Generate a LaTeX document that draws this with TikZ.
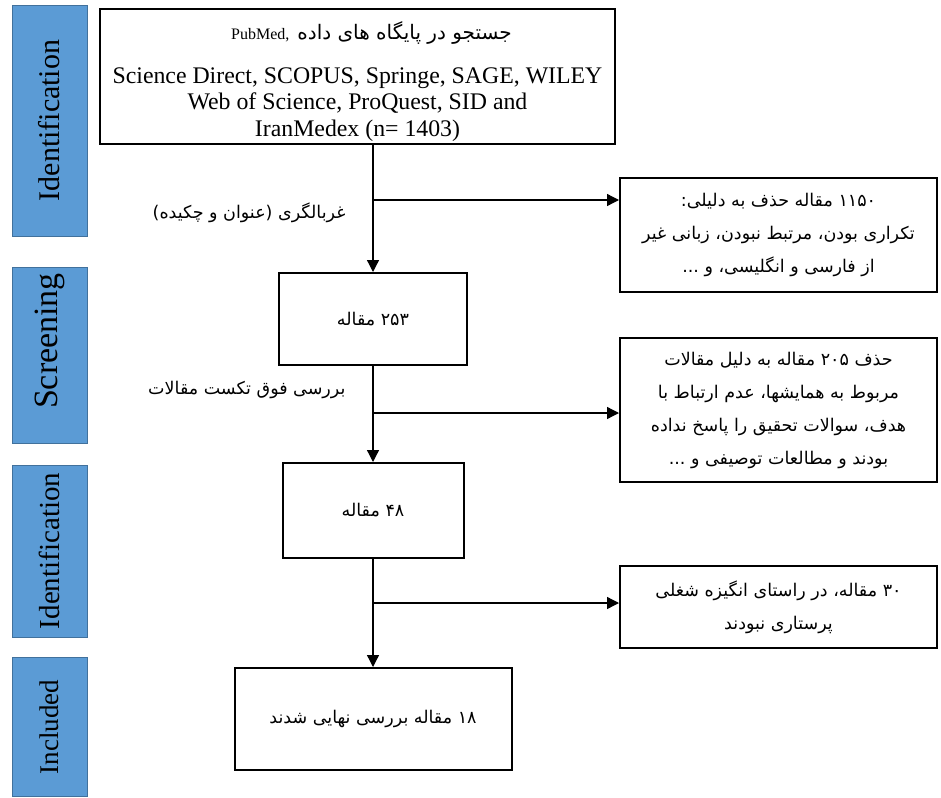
\documentclass[tikz,border=0pt]{standalone}
\usepackage{fontspec}
\setmainfont{Liberation Serif}
\newfontfamily\arabicfont[Script=Arabic]{DejaVu Sans}
\TeXXeTstate=1
\usetikzlibrary{arrows.meta}
\usetikzlibrary{positioning}

\definecolor{barfill}{HTML}{5B9BD5}
\definecolor{barborder}{HTML}{41719C}
\newcommand{\fa}[1]{{\arabicfont\beginR #1\endR}}

\tikzset{
  stagebar/.style={draw=barborder, fill=barfill, line width=0.8pt, rotate=90,
    inner sep=0pt, minimum height=75pt},
  flowbox/.style={draw, line width=2pt, inner sep=0pt, align=center},
  farsi/.style={font=\arabicfont\fontsize{17.5}{33}\selectfont},
  arr/.style={line width=1.3pt, -{Triangle[length=12pt,width=12pt]}},
}

\begin{document}
\begin{tikzpicture}[x=1pt, y=-1pt]
  % Fix the page size
  \useasboundingbox (0,0) rectangle (941,797);

  % Stage bars on the left
  \node[stagebar, minimum width=231pt, font=\fontsize{30}{36}\selectfont] (idbar) at (49.5,120.5) {Identification};
  \node[stagebar, minimum width=176pt, font=\fontsize{34}{40}\selectfont] (scrbar) at (49.5,355) {\hspace{28pt}Screening};
  \node[stagebar, minimum width=172pt, font=\fontsize{29}{35}\selectfont] (eligbar) at (49.5,551) {Identification};
  \node[stagebar, minimum width=139pt, font=\fontsize{27}{32}\selectfont] (incbar) at (49.5,727) {Included};

  % Search box
  \node[flowbox, minimum width=515pt, minimum height=135pt,
        font=\fontsize{23.8}{26.5}\selectfont] (search) at (357.5,76.5)
    {\rule{0pt}{28pt}\hspace{28pt}{\fontsize{16}{18}\selectfont PubMed,\ \ {\fontsize{20}{18}\selectfont\fa{جستجو در پایگاه های داده}}}\\[17pt]
     Science Direct, SCOPUS, Springe, SAGE, WILEY\\
     Web of Science, ProQuest, SID and\\
     IranMedex (n= 1403)};

  % Main column boxes
  \node[flowbox, farsi, minimum width=188pt, minimum height=92pt] (papers253) at (373,319) {\fa{۲۵۳ مقاله}};
  \node[flowbox, farsi, minimum width=181pt, minimum height=95pt] (papers48) at (373,510.5) {\fa{۴۸ مقاله}};
  \node[flowbox, farsi, minimum width=277pt, minimum height=102pt] (papers18) at (373,719) {\fa{۱۸ مقاله بررسی نهایی شدند}};

  % Excluded boxes on the right
  \node[flowbox, farsi, minimum width=317pt, minimum height=114pt] (excl1) at (778.5,235)
    {\fa{۱۱۵۰ مقاله حذف به دلیلی:}\\
     \fa{تکراری بودن، مرتبط نبودن، زبانی غیر}\\
     \fa{از فارسی و انگلیسی، و ...}};
  \node[flowbox, farsi, minimum width=317pt, minimum height=144pt] (excl2) at (778.5,410)
    {\fa{حذف ۲۰۵ مقاله به دلیل مقالات}\\
     \fa{مربوط به همایشها، عدم ارتباط با}\\
     \fa{هدف، سوالات تحقیق را پاسخ نداده}\\
     \fa{بودند و مطالعات توصیفی و ...}};
  \node[flowbox, farsi, minimum width=317pt, minimum height=82pt] (excl3) at (778.5,607)
    {\fa{۳۰ مقاله، در راستای انگیزه شغلی}\\
     \fa{پرستاری نبودند}};

  % Branch points
  \coordinate (split1) at (373,200);
  \coordinate (split2) at (373,413);
  \coordinate (split3) at (373,603);

  % Vertical flow
  \draw[arr] (search.south -| papers253.north) -- (papers253.north);
  \draw[arr] (papers253.south) -- (papers48.north);
  \draw[arr] (papers48.south) -- (papers18.north);

  % Side arrows
  \draw[arr] (split1) -- (split1 -| excl1.west);
  \draw[arr] (split2) -- (split2 -| excl2.west);
  \draw[arr] (split3) -- (split3 -| excl3.west);

  % Step labels
  \node[farsi, anchor=east] (screenlab) at (349,213) {\fa{غربالگری (عنوان و چکیده)}};
  \node[farsi, anchor=east] (fulltextlab) at (349,390) {\fa{بررسی فوق تکست مقالات}};
\end{tikzpicture}
\end{document}
